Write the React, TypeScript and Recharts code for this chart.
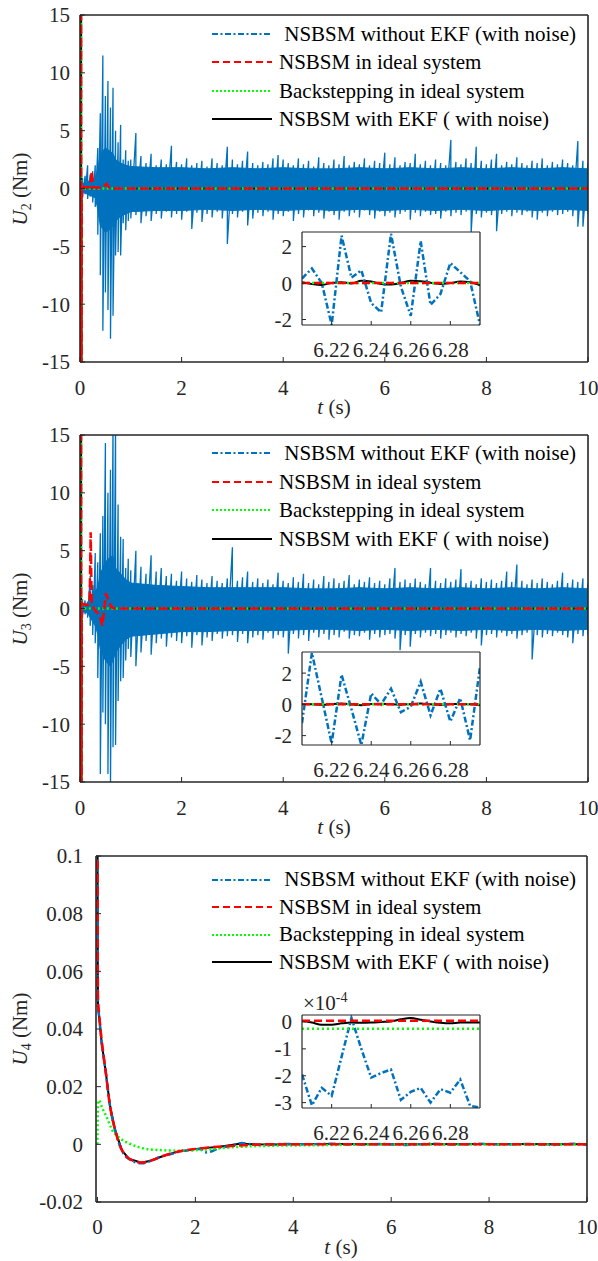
import React from 'react';
import { ComposedChart, Line, Area, XAxis, YAxis, Legend } from 'recharts';

const FONT = '"Liberation Serif", "DejaVu Serif", "Times New Roman", Times, serif';
const BLUE = '#0072BD';
const RED = '#FF0000';
const GREEN = '#00FF00';
const BLACK = '#000000';
const AXIS = '#262626';

// ---------- labels & ticks ----------
const legendLabels = [' NSBSM without EKF (with noise)', 'NSBSM in ideal system', 'Backstepping in ideal system', 'NSBSM with EKF ( with noise)'];
const xTicksMain = [0, 2, 4, 6, 8, 10];
const yTicksU23 = [-15, -10, -5, 0, 5, 10, 15];
const yTicksU4 = [-0.02, 0, 0.02, 0.04, 0.06, 0.08, 0.1];
const xTicksInset = [6.22, 6.24, 6.26, 6.28];
const yTicksInsetU23 = [-2, 0, 2];
const yTicksInsetU4 = [-3e-4, -2e-4, -1e-4, 0];

// ---------- main-panel time grid for the noisy (blue) signal ----------
const tMain = [
  0, 0.05, 0.1, 0.15, 0.2, 0.25, 0.3, 0.35, 0.4, 0.45,
  0.5, 0.55, 0.6, 0.65, 0.7, 0.75, 0.8, 0.85, 0.9, 0.95,
  1.0, 1.1, 1.2, 1.3, 1.4, 1.5, 1.6, 1.7, 1.8, 1.9,
  2.0, 2.1, 2.2, 2.3, 2.4, 2.5, 2.6, 2.7, 2.8, 2.9,
  3.0, 3.1, 3.2, 3.3, 3.4, 3.5, 3.6, 3.7, 3.8, 3.9,
  4.0, 4.1, 4.2, 4.3, 4.4, 4.5, 4.6, 4.7, 4.8, 4.9,
  5.0, 5.1, 5.2, 5.3, 5.4, 5.5, 5.6, 5.7, 5.8, 5.9,
  6.0, 6.1, 6.2, 6.3, 6.4, 6.5, 6.6, 6.7, 6.8, 6.9,
  7.0, 7.1, 7.2, 7.3, 7.4, 7.5, 7.6, 7.7, 7.8, 7.9,
  8.0, 8.1, 8.2, 8.3, 8.4, 8.5, 8.6, 8.7, 8.8, 8.9,
  9.0, 9.1, 9.2, 9.3, 9.4, 9.5, 9.6, 9.7, 9.8, 9.9,
  10,
];

// U2 blue (without EKF): spike tips (local max / min of the noise)
const u2BlueHi = [
  0.6, 0.9, 1.1, 2.0, 1.2, 1.5, 2.0, 3.5, 6.5, 11.5,
  8.0, 9.3, 7.0, 8.7, 5.0, 4.0, 5.5, 2.5, 3.3, 2.4,
  2.5, 4.8, 2.8, 2.2, 3.0, 2.0, 2.5, 2.1, 3.7, 2.3,
  2.1, 2.6, 2.0, 2.2, 2.4, 1.9, 2.6, 2.2, 2.0, 3.6,
  2.5, 2.1, 2.4, 3.2, 2.2, 2.0, 2.3, 2.1, 2.6, 2.9,
  2.5, 2.2, 2.0, 2.6, 2.1, 2.4, 1.9, 2.7, 2.2, 2.0,
  2.5, 2.1, 2.8, 2.0, 2.3, 2.1, 2.6, 2.0, 2.4, 2.2,
  3.1, 2.1, 2.7, 2.0, 2.3, 2.2, 3.0, 2.1, 2.4, 2.0,
  2.5, 2.2, 2.0, 4.2, 2.3, 2.1, 2.6, 2.2, 3.6, 2.4,
  2.1, 2.5, 3.0, 2.0, 2.3, 2.1, 2.7, 2.2, 2.0, 2.4,
  2.2, 2.6, 2.0, 2.3, 2.1, 2.5, 2.2, 2.0, 4.1, 2.4,
  2.2,
];
const u2BlueLo = [
  -0.3, -0.8, -0.5, -0.9, -0.7, -1.2, -1.6, -4.0, -7.5, -12.3,
  -9.0, -10.5, -13.0, -11.0, -5.8, -5.5, -5.8, -3.0, -3.6, -2.8,
  -2.6, -2.3, -3.0, -2.4, -2.8, -2.2, -2.6, -2.0, -2.5, -2.2,
  -2.7, -2.0, -3.5, -2.1, -2.9, -2.2, -2.5, -2.0, -2.6, -4.8,
  -2.2, -2.5, -2.0, -3.2, -2.6, -2.1, -2.4, -2.0, -2.7, -2.2,
  -2.4, -2.0, -2.8, -2.2, -2.5, -1.9, -2.4, -2.1, -2.6, -2.0,
  -2.3, -2.7, -2.0, -2.4, -2.1, -2.5, -1.9, -2.3, -2.6, -2.0,
  -2.4, -2.1, -2.5, -2.2, -2.0, -2.7, -2.1, -2.4, -2.0, -2.3,
  -2.2, -2.6, -2.0, -2.4, -2.1, -2.3, -2.0, -3.8, -2.2, -2.5,
  -2.1, -2.3, -3.7, -2.2, -2.0, -2.4, -2.1, -2.3, -2.0, -2.5,
  -2.7, -2.1, -2.4, -2.0, -2.3, -2.2, -2.0, -2.4, -3.3, -3.3,
  -2.2,
];

// U3 blue (without EKF): spike tips
const u3BlueHi = [
  0.6, 0.8, 0.7, 0.6, 2.8, 2.0, 4.8, 4.0, 6.5, 8.0,
  14.3, 10.0, 12.0, 16, 16, 9.0, 6.2, 6.0, 3.5, 4.3,
  3.3, 5.0, 3.6, 3.0, 4.6, 3.2, 3.5, 2.8, 3.0, 2.4,
  3.2, 2.6, 2.3, 2.9, 2.5, 2.2, 2.8, 2.4, 2.2, 2.6,
  5.3, 2.4, 2.7, 3.2, 2.3, 2.6, 2.2, 2.5, 2.1, 3.1,
  2.4, 2.2, 2.7, 2.3, 3.0, 2.2, 2.5, 2.1, 2.8, 2.3,
  2.6, 2.2, 2.4, 2.9, 2.1, 2.5, 2.3, 2.7, 2.2, 2.4,
  2.1, 2.6, 3.5, 2.3, 2.5, 2.2, 2.6, 2.3, 2.1, 3.5,
  2.4, 2.2, 2.6, 2.3, 2.5, 3.4, 2.2, 2.4, 2.1, 2.6,
  2.3, 2.5, 2.2, 2.4, 3.2, 2.3, 3.8, 2.4, 2.1, 2.5,
  2.2, 2.6, 2.3, 2.1, 2.4, 3.1, 2.2, 2.5, 2.3, 2.6,
  2.2,
];
const u3BlueLo = [
  -0.4, -0.6, -0.5, -0.8, -1.5, -2.3, -3.0, -6.0, -14.3, -9.0,
  -10.0, -14.3, -15.5, -12.0, -11.8, -8.0, -6.3, -6.0, -4.5, -3.5,
  -4.2, -5.0, -3.8, -2.8, -4.0, -3.0, -2.6, -3.3, -2.5, -2.8,
  -3.0, -2.4, -3.4, -2.3, -3.2, -2.5, -2.8, -2.2, -2.6, -2.4,
  -2.3, -2.9, -2.2, -3.0, -2.5, -2.3, -2.7, -2.1, -2.6, -2.3,
  -2.5, -3.9, -2.2, -2.6, -2.3, -2.8, -2.1, -2.5, -2.2, -2.7,
  -2.3, -2.5, -2.0, -2.6, -2.3, -2.4, -2.1, -2.7, -2.2, -2.5,
  -2.3, -2.2, -2.6, -3.6, -2.3, -3.3, -2.2, -2.5, -2.1, -2.4,
  -2.2, -2.6, -2.3, -2.1, -2.5, -2.2, -2.4, -2.1, -2.6, -3.2,
  -2.3, -2.2, -2.5, -2.1, -2.4, -2.2, -2.6, -2.3, -2.1, -4.4,
  -2.3, -2.5, -2.2, -2.4, -2.1, -2.3, -2.5, -3.0, -2.2, -2.4,
  -2.3,
];

// dense core of the noise band (where the trace fills solidly)
const tCore = [0, 0.15, 0.3, 0.35, 0.4, 0.5, 0.6, 0.65, 0.7, 0.8, 0.9, 1.0, 1.5, 2.0, 2.5, 3.0, 3.5, 4.0, 4.5, 5.0, 5.5, 6.0, 6.5, 7.0, 7.5, 8.0, 8.5, 9.0, 9.5, 10];
const u2CoreHi = [0.3, 0.6, 0.9, 1.6, 3.0, 3.5, 3.2, 3.0, 2.5, 2.2, 2.0, 1.9, 1.8, 1.8, 1.7, 1.8, 1.7, 1.8, 1.7, 1.7, 1.8, 1.7, 1.8, 1.7, 1.8, 1.7, 1.8, 1.7, 1.8, 1.7];
const u2CoreLo = [-0.2, -0.5, -0.8, -1.8, -3.2, -3.8, -3.5, -3.2, -2.8, -2.4, -2.2, -2.0, -1.9, -1.9, -1.8, -1.9, -1.8, -1.9, -1.8, -1.9, -1.8, -1.9, -1.8, -1.9, -1.8, -1.9, -1.8, -1.9, -1.8, -1.9];
const u3CoreHi = [0.3, 0.4, 1.5, 1.8, 3.0, 4.0, 4.5, 4.5, 3.5, 3.0, 2.5, 2.2, 2.0, 1.9, 1.8, 1.8, 1.8, 1.8, 1.7, 1.7, 1.8, 1.7, 1.8, 1.7, 1.8, 1.7, 1.8, 1.7, 1.8, 1.7];
const u3CoreLo = [-0.2, -0.4, -1.5, -2.2, -3.5, -4.5, -5.0, -4.5, -3.8, -3.2, -2.7, -2.4, -2.2, -2.0, -2.0, -1.9, -1.9, -1.9, -1.8, -1.8, -1.9, -1.8, -1.9, -1.8, -1.9, -1.8, -1.9, -1.8, -1.9, -1.8];

// U2 other series
const u2RedT = [0.02, 0.025, 0.035, 0.1, 0.2, 0.23, 0.26, 0.45, 0.52, 0.58, 0.7, 10];
const u2RedV = [40, -40, 0.2, 0.1, 0.1, 1.5, 0.1, 0.05, 0.4, 0.05, 0, 0];
const u2GreenT = [0.02, 0.025, 0.035, 10];
const u2GreenV = [40, -40, 0, 0];
const u2BlackT = [0.02, 0.025, 0.035, 10];
const u2BlackV = [40, -40, 0, 0];

// U3 other series
const u3RedT = [0.02, 0.025, 0.035, 0.15, 0.19, 0.21, 0.23, 0.3, 0.38, 0.44, 0.51, 0.56, 0.62, 0.7, 10];
const u3RedV = [40, -40, 0.4, 0.3, 0.5, 6.6, 0.4, -0.2, -0.5, -1.5, 1.3, 0.7, 0.1, 0, 0];
const u3GreenT = [0.02, 0.025, 0.035, 10];
const u3GreenV = [40, -40, 0, 0];
const u3BlackT = [0.02, 0.025, 0.035, 10];
const u3BlackV = [40, -40, 0, 0];

// U4 series
const u4RedT = [0, 0.005, 0.01, 0.03, 0.08, 0.17, 0.25, 0.36, 0.5, 0.65, 0.9, 1.1, 1.3, 1.6, 2.1, 2.8, 3.5, 10];
const u4RedV = [0.13, 0.07, 0.05, 0.046, 0.037, 0.025, 0.014, 0.005, -0.002, -0.005, -0.0063, -0.0056, -0.0043, -0.0027, -0.0014, -0.0005, 0, 0.000005];
const u4BlueT = [0, 0.005, 0.01, 0.03, 0.08, 0.17, 0.25, 0.36, 0.5, 0.65, 0.9, 1.1, 1.3, 1.5, 1.7, 1.9, 2.1, 2.2, 2.35, 2.5, 2.7, 2.85, 2.95, 3.1, 3.4, 3.8, 4.3, 4.8, 5.3, 5.8, 6.3, 6.8, 7.3, 7.8, 8.3, 8.8, 9.3, 9.7, 10];
const u4BlueV = [0.13, 0.07, 0.048, 0.045, 0.036, 0.025, 0.014, 0.005, -0.0022, -0.0052, -0.0066, -0.0057, -0.0042, -0.0034, -0.0024, -0.002, -0.0016, -0.0028, -0.0023, -0.0011, -0.0006, 0.0001, 0.0005, 0.0001, -0.0002, 0.0001, 0.0, 0.0002, -0.0001, 0.0001, -0.0002, 0.0002, -0.0001, 0.0002, -0.0001, 0.0001, -0.0002, 0.0002, -0.0002];
const u4BlackT = [0, 0.005, 0.01, 0.03, 0.08, 0.17, 0.25, 0.36, 0.5, 0.65, 0.9, 1.1, 1.3, 1.6, 2.1, 2.5, 2.9, 3.2, 3.6, 4.5, 6, 8, 10];
const u4BlackV = [0.13, 0.07, 0.049, 0.045, 0.036, 0.025, 0.014, 0.005, -0.0021, -0.0051, -0.0064, -0.0056, -0.0043, -0.0027, -0.0014, -0.0008, 0.0002, 0.0, -0.0001, 0.0001, 0.0, 0.0001, 0.0];
const u4GreenT = [0, 0.01, 0.03, 0.1, 0.2, 0.3, 0.46, 0.66, 0.94, 1.28, 1.7, 2.23, 2.77, 3.5, 4.5, 6, 10];
const u4GreenV = [0, 0.015, 0.0152, 0.0125, 0.009, 0.005, 0.0021, 0.0002, -0.0014, -0.002, -0.0022, -0.0018, -0.001, -0.0005, -0.0003, -0.00003, -0.00002];

// ---------- inset (zoom 6.205 – 6.295 s) ----------
const tInset = [6.205, 6.21, 6.215, 6.22, 6.225, 6.23, 6.235, 6.24, 6.245, 6.25, 6.255, 6.26, 6.265, 6.27, 6.275, 6.28, 6.285, 6.29, 6.295];
const u2InsBlue = [0.25, 0.8, 0.0, -2.3, 2.6, 0.3, 0.7, -1.1, -1.6, 2.7, -0.2, -1.8, 2.3, -1.2, -0.6, 1.1, 0.6, 0.1, -2.3];
const u2InsBlack = [0.05, -0.05, -0.1, 0.0, 0.05, -0.02, 0.12, 0.08, -0.05, -0.08, 0.0, 0.12, 0.1, 0.02, -0.05, 0.0, 0.08, 0.05, -0.12];
const u2InsRed = [0, 0, 0, 0, 0, 0, 0, 0, 0, 0, 0, 0, 0, 0, 0, 0, 0, 0, 0];
const u2InsGreen = [0, 0, 0, 0, 0, 0, 0, 0, 0, 0, 0, 0, 0, 0, 0, 0, 0, 0, 0];
const u3InsBlue = [-1.2, 3.3, 0.4, -2.5, 1.9, -0.3, -2.6, 0.7, 0.0, 1.0, -0.5, -0.15, 1.45, -0.7, 1.0, -1.1, 0.4, -2.3, 2.4];
const u3InsBlack = [0.02, 0.0, -0.03, 0.02, 0.05, 0.0, -0.05, 0.02, 0.04, 0.0, -0.02, 0.03, 0.05, 0.0, -0.04, 0.02, 0.03, 0.0, -0.05];
const u3InsRed = [0, 0, 0, 0, 0, 0, 0, 0, 0, 0, 0, 0, 0, 0, 0, 0, 0, 0, 0];
const u3InsGreen = [0, 0, 0, 0, 0, 0, 0, 0, 0, 0, 0, 0, 0, 0, 0, 0, 0, 0, 0];
const u4InsBlue = [-1.95e-4, -3.1e-4, -2.45e-4, -2.75e-4, -1.3e-4, 0.15e-4, -1.0e-4, -2.07e-4, -1.9e-4, -1.77e-4, -2.9e-4, -2.6e-4, -2.45e-4, -3.0e-4, -2.5e-4, -2.63e-4, -2.14e-4, -3.12e-4, -3.18e-4];
const u4InsBlack = [0.05e-4, -0.02e-4, -0.1e-4, -0.1e-4, -0.05e-4, -0.02e-4, -0.03e-4, -0.02e-4, 0.0, 0.02e-4, 0.1e-4, 0.15e-4, 0.08e-4, 0.02e-4, -0.03e-4, -0.05e-4, -0.02e-4, -0.02e-4, -0.02e-4];
const u4InsRed = [0.05e-4, 0.05e-4, 0.05e-4, 0.05e-4, 0.05e-4, 0.05e-4, 0.05e-4, 0.05e-4, 0.05e-4, 0.05e-4, 0.05e-4, 0.05e-4, 0.05e-4, 0.05e-4, 0.05e-4, 0.05e-4, 0.05e-4, 0.05e-4, 0.05e-4];
const u4InsGreen = [-0.25e-4, -0.25e-4, -0.25e-4, -0.25e-4, -0.25e-4, -0.25e-4, -0.25e-4, -0.25e-4, -0.25e-4, -0.25e-4, -0.25e-4, -0.25e-4, -0.25e-4, -0.25e-4, -0.25e-4, -0.25e-4, -0.25e-4, -0.25e-4, -0.25e-4];

// ---------- helpers ----------
const pts = (t: number[], v: number[]) => t.map((x, i) => ({ t: x, v: v[i] }));
const band = (t: number[], lo: number[], hi: number[]) => t.map((x, i) => ({ t: x, r: [lo[i], hi[i]] }));
// noisy trace: at each sample time it swings from its local max down to its local min
const noise = (t: number[], lo: number[], hi: number[]) =>
  t.flatMap((x, i) => [{ t: x, v: hi[i] }, { t: x, v: lo[i] }]);

const legendStyles = [
  { stroke: BLUE, dash: '6 2.5 2 2.5', width: 2 },
  { stroke: RED, dash: '7 4', width: 2 },
  { stroke: GREEN, dash: '2 2', width: 2 },
  { stroke: BLACK, dash: undefined as string | undefined, width: 2 },
];

const tickText = { fill: AXIS, fontSize: 21, fontFamily: FONT };

const LegendBox = ({ rowH }: { rowH: number }) => (
  <div style={{ fontFamily: FONT, fontSize: 21, color: '#000' }}>
    {legendLabels.map((lab, i) => (
      <div key={i} style={{ display: 'flex', alignItems: 'center', height: rowH, whiteSpace: 'pre', lineHeight: `${rowH}px` }}>
        <svg width={64} height={10} style={{ flex: 'none' }}>
          <line x1={1} y1={5} x2={61} y2={5} stroke={legendStyles[i].stroke} strokeWidth={legendStyles[i].width} strokeDasharray={legendStyles[i].dash} />
        </svg>
        <span style={{ marginLeft: 4 }}>{lab}</span>
      </div>
    ))}
  </div>
);

type Series = { t: number; v: number }[];

interface PanelProps {
  top: number;
  sub: string;
  margin: { top: number; right: number; bottom: number; left: number };
  xDomain: [number, number];
  yDomain: [number, number];
  yTicks: number[];
  yTickMargin: number;
  xTickMargin: number;
  coreData?: { t: number; r: number[] }[];
  noiseData?: Series;
  blueLine?: Series;
  red: Series;
  green: Series;
  black: Series;
  legendTop: number;
  legendRowH: number;
  xTitleX: number;
  inset: {
    top: number;
    blue: Series; red: Series; green: Series; black: Series;
    yDomain: [number, number];
    yTicks: number[];
    fmt?: (v: number) => string;
    exponent?: boolean;
  };
}

const Inset = ({ p }: { p: PanelProps['inset'] }) => (
  <div style={{ position: 'absolute', left: 240, top: p.top, width: 250, height: 140 }}>
    <div style={{ position: 'absolute', left: 62, top: 7, width: 178, height: 93, background: '#fff' }} />
    <div style={{ position: 'absolute', left: 0, top: 0 }}>
      <ComposedChart width={250} height={140} margin={{ top: 2, right: 5, bottom: 0, left: 2 }}>
        <XAxis xAxisId="b" type="number" dataKey="t" domain={[6.205, 6.295]} ticks={xTicksInset} interval={0} allowDataOverflow height={40} tickSize={-4} tickMargin={21} stroke={AXIS} axisLine={{ strokeWidth: 1.2 }} tick={tickText} />
        <XAxis xAxisId="t" orientation="top" type="number" dataKey="t" domain={[6.205, 6.295]} ticks={xTicksInset} interval={0} allowDataOverflow height={5} tickSize={-4} tick={false} stroke={AXIS} axisLine={{ strokeWidth: 1.2 }} />
        <YAxis yAxisId="l" type="number" domain={p.yDomain} ticks={p.yTicks} interval={0} allowDataOverflow width={60} tickSize={-4} tickMargin={14} stroke={AXIS} axisLine={{ strokeWidth: 1.2 }} tick={tickText} tickFormatter={p.fmt} />
        <YAxis yAxisId="r" orientation="right" type="number" domain={p.yDomain} ticks={p.yTicks} interval={0} allowDataOverflow width={5} tickSize={-4} tick={false} stroke={AXIS} axisLine={{ strokeWidth: 1.2 }} />
        <Line xAxisId="b" yAxisId="l" data={p.black} dataKey="v" type="monotone" stroke={BLACK} strokeWidth={2} dot={false} activeDot={false} isAnimationActive={false} />
        <Line xAxisId="b" yAxisId="l" data={p.blue} dataKey="v" type="linear" stroke={BLUE} strokeWidth={2.5} strokeDasharray="6 2.5 2 2.5" dot={false} activeDot={false} isAnimationActive={false} />
        <Line xAxisId="b" yAxisId="l" data={p.green} dataKey="v" type="linear" stroke={GREEN} strokeWidth={2.5} strokeDasharray="2 3" dot={false} activeDot={false} isAnimationActive={false} />
        <Line xAxisId="b" yAxisId="l" data={p.red} dataKey="v" type="linear" stroke={RED} strokeWidth={2.5} strokeDasharray="8 4" dot={false} activeDot={false} isAnimationActive={false} />
      </ComposedChart>
    </div>
    {p.exponent && (
      <div style={{ position: 'absolute', left: 63, top: -15, fontFamily: FONT, fontSize: 21, lineHeight: '21px', color: AXIS, whiteSpace: 'nowrap' }}>
        ×10<span style={{ fontSize: 14, position: 'relative', top: -8 }}>-4</span>
      </div>
    )}
  </div>
);

const Panel = (p: PanelProps) => (
  <div style={{ position: 'absolute', left: 0, top: p.top, width: 598, height: 420 }}>
    <ComposedChart width={598} height={420} margin={p.margin}>
      <XAxis xAxisId="b" type="number" dataKey="t" domain={p.xDomain} ticks={xTicksMain} interval={0} allowDataOverflow height={58} tickSize={-5} tickMargin={p.xTickMargin} stroke={AXIS} axisLine={{ strokeWidth: 1.6 }} tick={tickText} />
      <XAxis xAxisId="t" orientation="top" type="number" dataKey="t" domain={p.xDomain} ticks={xTicksMain} interval={0} allowDataOverflow height={5} tickSize={-5} tick={false} stroke={AXIS} axisLine={{ strokeWidth: 1.6 }} />
      <YAxis yAxisId="l" type="number" domain={p.yDomain} ticks={p.yTicks} interval={0} allowDataOverflow width={60} tickSize={-5} tickMargin={p.yTickMargin} stroke={AXIS} axisLine={{ strokeWidth: 1.6 }} tick={tickText} />
      <YAxis yAxisId="r" orientation="right" type="number" domain={p.yDomain} ticks={p.yTicks} interval={0} allowDataOverflow width={10} tickSize={-5} tick={false} stroke={AXIS} axisLine={{ strokeWidth: 1.6 }} />
      <Line xAxisId="b" yAxisId="l" data={p.black} dataKey="v" type="linear" stroke={BLACK} strokeWidth={2} dot={false} activeDot={false} isAnimationActive={false} />
      {p.coreData && (
        <Area xAxisId="b" yAxisId="l" data={p.coreData} dataKey="r" type="linear" stroke={BLUE} strokeWidth={1} fill={BLUE} fillOpacity={1} dot={false} activeDot={false} isAnimationActive={false} />
      )}
      {p.noiseData && (
        <Line xAxisId="b" yAxisId="l" data={p.noiseData} dataKey="v" type="linear" stroke={BLUE} strokeWidth={1.3} dot={false} activeDot={false} isAnimationActive={false} />
      )}
      {p.blueLine && (
        <Line xAxisId="b" yAxisId="l" data={p.blueLine} dataKey="v" type="monotone" stroke={BLUE} strokeWidth={2.5} strokeDasharray="7 3 2 3" dot={false} activeDot={false} isAnimationActive={false} />
      )}
      <Line xAxisId="b" yAxisId="l" data={p.green} dataKey="v" type={p.blueLine ? 'monotone' : 'linear'} stroke={GREEN} strokeWidth={2.5} strokeDasharray="2 2.5" dot={false} activeDot={false} isAnimationActive={false} />
      <Line xAxisId="b" yAxisId="l" data={p.red} dataKey="v" type={p.blueLine ? 'monotone' : 'linear'} stroke={RED} strokeWidth={2.5} strokeDasharray="9 4" dot={false} activeDot={false} isAnimationActive={false} />
      <Legend layout="vertical" align="center" verticalAlign="middle" wrapperStyle={{ left: 211, top: p.legendTop, width: 385, height: p.legendRowH * 4 }} content={() => <LegendBox rowH={p.legendRowH} />} />
    </ComposedChart>
    <div style={{ position: 'absolute', left: 21, top: 189, transform: 'translate(-50%, -50%) rotate(-90deg)', fontFamily: FONT, fontSize: 21, lineHeight: '21px', color: AXIS, whiteSpace: 'nowrap' }}>
      <i>U</i><span style={{ fontSize: 14, position: 'relative', top: 4 }}>{p.sub}</span> (Nm)
    </div>
    <div style={{ position: 'absolute', left: p.xTitleX, top: 397, transform: 'translateX(-50%)', fontFamily: FONT, fontSize: 21, lineHeight: '21px', color: AXIS, whiteSpace: 'nowrap' }}>
      <i>t</i> (s)
    </div>
    <Inset p={p.inset} />
  </div>
);

const fmtE4 = (v: number) => String(Math.round(v * 1e4));

export default function App() {
  return (
    <div style={{ position: 'absolute', left: 0, top: 0, width: 598, height: 1261, background: '#fff', fontFamily: FONT, overflow: 'hidden' }}>
      <Panel
        top={0}
        sub="2"
        margin={{ top: 10, right: 0, bottom: 0, left: 20 }}
        xDomain={[0, 10]}
        yDomain={[-15, 15]}
        yTicks={yTicksU23}
        yTickMargin={15}
        xTickMargin={23}
        coreData={band(tCore, u2CoreLo, u2CoreHi)}
        noiseData={noise(tMain, u2BlueLo, u2BlueHi)}
        red={pts(u2RedT, u2RedV)}
        green={pts(u2GreenT, u2GreenV)}
        black={pts(u2BlackT, u2BlackV)}
        legendTop={19.5}
        legendRowH={28.5}
        xTitleX={334}
        inset={{
          top: 225,
          blue: pts(tInset, u2InsBlue), red: pts(tInset, u2InsRed), green: pts(tInset, u2InsGreen), black: pts(tInset, u2InsBlack),
          yDomain: [-2.3, 2.8], yTicks: yTicksInsetU23,
        }}
      />
      <Panel
        top={420}
        sub="3"
        margin={{ top: 10, right: 0, bottom: 0, left: 20 }}
        xDomain={[0, 10]}
        yDomain={[-15, 15]}
        yTicks={yTicksU23}
        yTickMargin={15}
        xTickMargin={23}
        coreData={band(tCore, u3CoreLo, u3CoreHi)}
        noiseData={noise(tMain, u3BlueLo, u3BlueHi)}
        red={pts(u3RedT, u3RedV)}
        green={pts(u3GreenT, u3GreenV)}
        black={pts(u3BlackT, u3BlackV)}
        legendTop={19}
        legendRowH={28.5}
        xTitleX={334}
        inset={{
          top: 225,
          blue: pts(tInset, u3InsBlue), red: pts(tInset, u3InsRed), green: pts(tInset, u3InsGreen), black: pts(tInset, u3InsBlack),
          yDomain: [-2.6, 3.35], yTicks: yTicksInsetU23,
        }}
      />
      <Panel
        top={840}
        sub="4"
        margin={{ top: 11, right: 1, bottom: 0, left: 36 }}
        xDomain={[-0.03, 10]}
        yDomain={[-0.02, 0.1]}
        yTicks={yTicksU4}
        yTickMargin={18}
        xTickMargin={22}
        blueLine={pts(u4BlueT, u4BlueV)}
        red={pts(u4RedT, u4RedV)}
        green={pts(u4GreenT, u4GreenV)}
        black={pts(u4BlackT, u4BlackV)}
        legendTop={26}
        legendRowH={27.5}
        xTitleX={341}
        inset={{
          top: 168,
          blue: pts(tInset, u4InsBlue), red: pts(tInset, u4InsRed), green: pts(tInset, u4InsGreen), black: pts(tInset, u4InsBlack),
          yDomain: [-3.2e-4, 0.26e-4], yTicks: yTicksInsetU4, fmt: fmtE4, exponent: true,
        }}
      />
    </div>
  );
}
